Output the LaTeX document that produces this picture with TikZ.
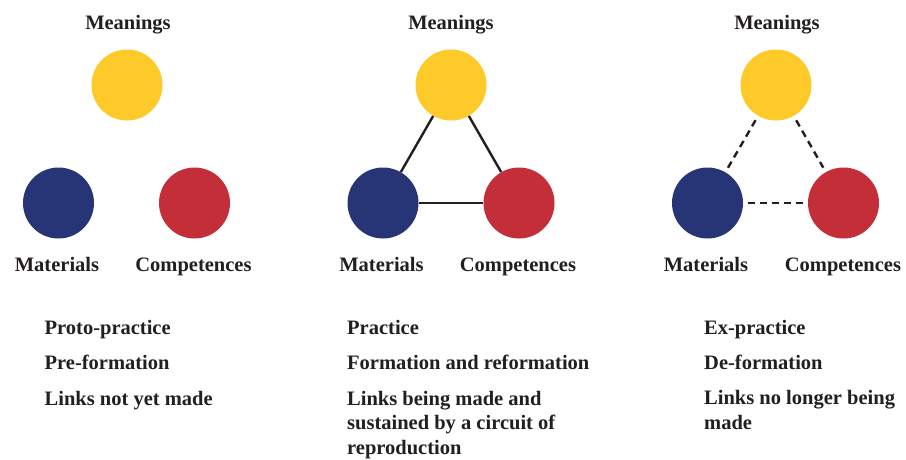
\documentclass[tikz,border=0pt]{standalone}
\usepackage{fontspec}
\setmainfont{Liberation Serif}
\definecolor{myyellow}{HTML}{FECA2A}
\definecolor{myblue}{HTML}{273577}
\definecolor{myred}{HTML}{C32E38}
\definecolor{ink}{HTML}{231F20}
\begin{document}
\begin{tikzpicture}[x=1pt,y=-1pt,
  dot/.style={circle, minimum size=71pt, inner sep=0pt, draw=none},
  lbl/.style={font=\bfseries\fontsize{20.5}{24.5}\selectfont, text=ink, inner sep=0pt},
  desc/.style={lbl, anchor=base west},
  link/.style={line width=2.4pt, draw=ink},
  broken/.style={link, dash pattern=on 7pt off 5pt, shorten >=5pt, shorten <=5pt}]
\useasboundingbox[fill=white] (0,0) rectangle (906,459);

% group 1
\node[dot, fill=myyellow] (m1) at (127,85) {};
\node[dot, fill=myblue] (a1) at (58.5,203) {};
\node[dot, fill=myred] (c1) at (194.5,203) {};
\node[lbl, anchor=base] (tm1) at (128,29.5) {Meanings};
\node[lbl, anchor=base] (ta1) at (57,271) {Materials};
\node[lbl, anchor=base] (tc1) at (193.5,271) {Competences};
\node[desc] (d1) at (44.5,334) {Proto-practice};
\node[desc] (e1) at (44.5,369) {Pre-formation};
\node[desc] (f1) at (44.5,405) {Links not yet made};

% group 2
\node[dot, fill=myyellow] (m2) at (451,85) {};
\node[dot, fill=myblue] (a2) at (383,203) {};
\node[dot, fill=myred] (c2) at (519,203) {};
\draw[link] (m2) -- (a2);
\draw[link] (m2) -- (c2);
\draw[link] (a2) -- (c2);
\node[lbl, anchor=base] (tm2) at (451,29.5) {Meanings};
\node[lbl, anchor=base] (ta2) at (381.5,271) {Materials};
\node[lbl, anchor=base] (tc2) at (518,271) {Competences};
\node[desc] (d2) at (347,334) {Practice};
\node[desc] (e2) at (347,369) {Formation and reformation};
\node[desc] (f2) at (347,405) {\vtop{\hbox{Links being made and}\hbox{sustained by a circuit of}\hbox{reproduction}}};

% group 3
\node[dot, fill=myyellow] (m3) at (776,85) {};
\node[dot, fill=myblue] (a3) at (707.5,203) {};
\node[dot, fill=myred] (c3) at (843.5,203) {};
\draw[broken] (m3) -- (a3);
\draw[broken] (m3) -- (c3);
\draw[broken] (a3) -- (c3);
\node[lbl, anchor=base] (tm3) at (777,29.5) {Meanings};
\node[lbl, anchor=base] (ta3) at (706,271) {Materials};
\node[lbl, anchor=base] (tc3) at (843,271) {Competences};
\node[desc] (d3) at (704,334) {Ex-practice};
\node[desc] (e3) at (704,369) {De-formation};
\node[desc] (f3) at (704,404.5) {\vtop{\hbox{Links no longer being}\hbox{made}}};
\end{tikzpicture}
\end{document}
